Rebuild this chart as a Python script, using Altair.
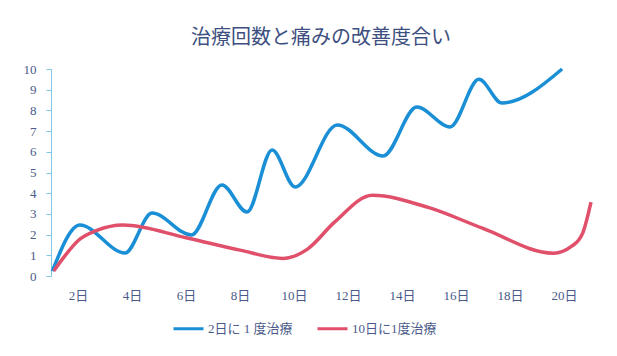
import altair as alt
import pandas as pd

title_text = "治療回数と痛みの改善度合い"
series_a = "2日に 1 度治療"
series_b = "10日に1度治療"

a_days = [1.05, 2.07, 3.74, 4.74, 6.2, 7.33, 8.26, 9.19, 10.04, 11.6, 13.3, 14.55, 15.78, 16.85, 17.7, 19.93]
a_vals = [0.24, 2.46, 1.11, 3.04, 1.98, 4.4, 3.09, 6.09, 4.3, 7.3, 5.8, 8.16, 7.2, 9.5, 8.36, 10.0]

b_days = [1.1, 1.5, 2.0, 2.7, 3.67, 6.0, 8.0, 9.6, 10.5, 11.5, 12.9, 15.0, 17.0, 19.6, 20.3, 20.7, 21.0]
b_vals = [0.24, 0.95, 1.7, 2.2, 2.46, 1.85, 1.25, 0.85, 1.3, 2.6, 3.9, 3.3, 2.3, 1.1, 1.45, 2.1, 3.57]

x_ticks = [2, 4, 6, 8, 10, 12, 14, 16, 18, 20]
y_ticks = [0, 1, 2, 3, 4, 5, 6, 7, 8, 9, 10]

df = pd.concat([
    pd.DataFrame({"day": a_days, "value": a_vals, "series": series_a, "order": range(len(a_days))}),
    pd.DataFrame({"day": b_days, "value": b_vals, "series": series_b, "order": range(len(b_days))}),
])

serif = "'Liberation Serif', 'DejaVu Serif', 'Noto Sans CJK JP', serif"
label_color = "#4a5a8a"

chart = alt.Chart(df).mark_line(interpolate="monotone", strokeWidth=3.5).encode(
    x=alt.X("day:Q", scale=alt.Scale(domain=[1, 21], nice=False, zero=False),
            axis=alt.Axis(values=x_ticks, labelExpr="datum.value + '日'", domain=False, ticks=False,
                          grid=False, title=None, labelFont=serif, labelFontSize=13,
                          labelColor=label_color, labelPadding=13)),
    y=alt.Y("value:Q", scale=alt.Scale(domain=[0, 10], nice=False),
            axis=alt.Axis(values=y_ticks, domainColor="#7cc8e6", tickColor="#7cc8e6", tickSize=5,
                          grid=False, title=None, labelFont=serif, labelFontSize=13,
                          labelColor=label_color, labelPadding=10)),
    color=alt.Color("series:N", scale=alt.Scale(domain=[series_a, series_b], range=["#1a8fd6", "#e0506a"]),
                    legend=alt.Legend(title=None, orient="none", legendX=121, legendY=243,
                                      direction="horizontal", symbolType="stroke", symbolSize=900,
                                      symbolStrokeWidth=3, labelFont=serif, labelFontSize=13,
                                      labelColor=label_color, columnPadding=18, labelOffset=3)),
    order="order:Q",
).properties(
    width=540, height=207,
    title=alt.Title(title_text, font="Noto Sans CJK JP", fontSize=20, fontWeight="normal",
                    color="#3d4f80", anchor="middle", offset=14),
    autosize=alt.AutoSizeParams(type="none"),
    padding={"left": 43, "top": 61, "right": 18, "bottom": 72},
).configure_view(stroke=None)

chart.save("out.html", embed_options={"renderer": "svg", "actions": False})
